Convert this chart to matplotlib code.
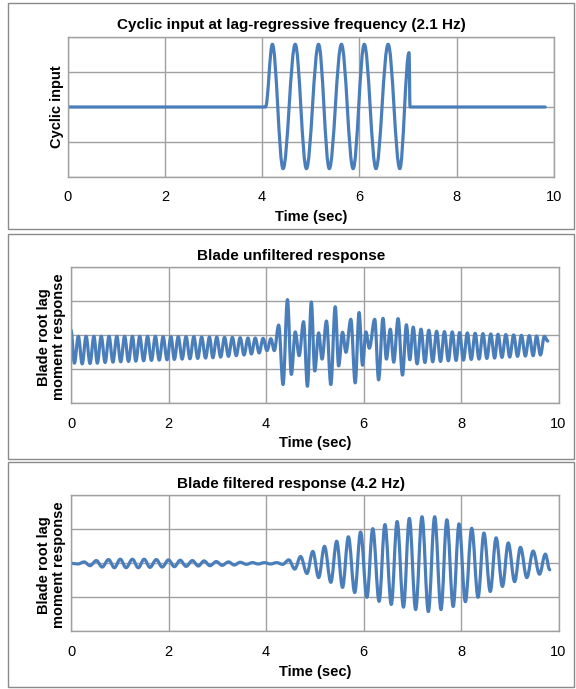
import matplotlib
matplotlib.use("Agg")
import matplotlib.pyplot as plt
from matplotlib.path import Path
from matplotlib.patches import PathPatch, Rectangle

# ---- data: extrema (time in sec, value in grid units) ----
# cyclic input, 2.1 Hz burst between ~4.1 s and ~7.0 s
input_t = [0.00, 4.07, 4.21, 4.43, 4.68, 4.91, 5.16, 5.38, 5.63, 5.87,
           6.10, 6.34, 6.59, 6.83, 7.02, 7.04, 9.82]
input_y = [0.00, 0.00, 1.80, -1.77, 1.80, -1.77, 1.80, -1.77, 1.80, -1.77,
           1.80, -1.77, 1.80, -1.77, 1.56, 0.00, 0.00]

# blade unfiltered response
unf_t = [0.00,
         0.07, 0.15, 0.23, 0.31, 0.39, 0.47, 0.54, 0.62, 0.70, 0.78,
         0.86, 0.94, 1.02, 1.10, 1.18, 1.26, 1.33, 1.41, 1.49, 1.57,
         1.65, 1.73, 1.81, 1.89, 1.97, 2.05, 2.12, 2.20, 2.28, 2.36,
         2.44, 2.52, 2.60, 2.68, 2.76, 2.84, 2.91, 2.99, 3.07, 3.15,
         3.23, 3.31, 3.39, 3.47, 3.55, 3.63, 3.70, 3.78, 3.86, 3.94,
         4.02, 4.10,
         4.17, 4.26, 4.35, 4.44, 4.52, 4.60, 4.68, 4.77, 4.85, 4.93,
         5.00, 5.08, 5.15, 5.24, 5.33, 5.42, 5.49, 5.57, 5.64, 5.74,
         5.83, 5.91, 5.98, 6.05, 6.12, 6.23, 6.31, 6.40, 6.47, 6.55,
         6.62, 6.71, 6.80, 6.88, 6.95, 7.02, 7.10, 7.18, 7.26, 7.34,
         7.42, 7.50, 7.58, 7.66, 7.74, 7.82, 7.90, 7.97, 8.05, 8.13,
         8.21, 8.29, 8.37, 8.45, 8.53, 8.61, 8.69, 8.76, 8.84, 8.92,
         9.00, 9.08, 9.16, 9.24, 9.32, 9.40, 9.48, 9.55, 9.63, 9.71,
         9.78]
unf_y = [0.15,
         -0.82, -0.03, -0.84, -0.03, -0.83, -0.03, -0.82, -0.03, -0.80, -0.03,
         -0.79, -0.03, -0.78, -0.03, -0.77, -0.03, -0.76, -0.03, -0.75, -0.03,
         -0.74, -0.03, -0.73, -0.04, -0.72, -0.04, -0.71, -0.04, -0.70, -0.04,
         -0.69, -0.04, -0.68, -0.05, -0.67, -0.05, -0.66, -0.05, -0.64, -0.06,
         -0.62, -0.06, -0.60, -0.07, -0.58, -0.08, -0.55, -0.08, -0.52, -0.09,
         -0.45, -0.10,
         -0.45, 0.30, -1.45, 1.05, -1.15, 0.10, -0.60, 0.40, -1.50, 0.98,
         -1.05, 0.07, -0.70, 0.42, -1.45, 0.84, -0.90, 0.09, -0.50, 0.47,
         -1.40, 0.67, -0.88, 0.10, -0.38, 0.47, -1.31, 0.50, -0.70, 0.18,
         -0.79, 0.49, -1.17, 0.31, -0.72, 0.24, -0.84, 0.18, -0.80, 0.15,
         -0.78, 0.12, -0.77, 0.11, -0.75, 0.10, -0.74, 0.08, -0.73, 0.07,
         -0.71, 0.06, -0.70, 0.05, -0.68, 0.04, -0.67, 0.03, -0.65, 0.02,
         -0.64, 0.01, -0.62, 0.00, -0.61, -0.01, -0.60, -0.02, -0.58, -0.03,
         -0.17]

# blade filtered response (4.2 Hz)
filt_t = [0.00,
          0.14, 0.27, 0.39, 0.52, 0.64, 0.77, 0.89, 1.01, 1.13, 1.26,
          1.38, 1.50, 1.62, 1.75, 1.87, 2.00, 2.12, 2.24, 2.36, 2.49,
          2.61, 2.73, 2.85, 2.98, 3.10, 3.23, 3.35, 3.47, 3.60, 3.72,
          3.84, 3.97, 4.09, 4.22, 4.34, 4.47, 4.59, 4.71, 4.84, 4.96,
          5.08, 5.20, 5.33, 5.45, 5.57, 5.69, 5.82, 5.94, 6.07, 6.19,
          6.32, 6.44, 6.57, 6.69, 6.82, 6.94, 7.07, 7.20, 7.33, 7.46,
          7.59, 7.71, 7.84, 7.96, 8.09, 8.22, 8.35, 8.47, 8.60, 8.72,
          8.85, 8.97, 9.10, 9.22, 9.35, 9.48, 9.61, 9.73, 9.82]
filt_y = [0.00,
          -0.02, 0.04, -0.07, 0.08, -0.11, 0.11, -0.13, 0.12, -0.13, 0.12,
          -0.13, 0.12, -0.12, 0.11, -0.11, 0.10, -0.10, 0.09, -0.09, 0.08,
          -0.08, 0.07, -0.07, 0.05, -0.06, 0.04, -0.05, 0.03, -0.03, 0.02,
          -0.02, 0.02, -0.02, 0.02, -0.03, 0.10, -0.17, 0.20, -0.30, 0.35,
          -0.42, 0.50, -0.56, 0.65, -0.71, 0.78, -0.86, 0.92, -1.00, 1.02,
          -1.12, 1.14, -1.21, 1.23, -1.29, 1.32, -1.36, 1.37, -1.42, 1.37,
          -1.36, 1.28, -1.27, 1.16, -1.13, 1.03, -1.00, 0.89, -0.83, 0.75,
          -0.68, 0.60, -0.54, 0.47, -0.42, 0.36, -0.32, 0.27, -0.19]

assert len(input_t) == len(input_y)
assert len(unf_t) == len(unf_y)
assert len(filt_t) == len(filt_y)

time_ticks = [0, 2, 4, 6, 8, 10]
titles = ["Cyclic input at lag-regressive frequency (2.1 Hz)",
          "Blade unfiltered response",
          "Blade filtered response (4.2 Hz)"]
ylabels = ["Cyclic input",
           "Blade root lag\nmoment response",
           "Blade root lag\nmoment response"]

LINE = "#4a7ebb"
GRID = "#a0a0a0"
FRAME = "#8a8a8a"
plt.rcParams["font.family"] = ["Liberation Sans", "DejaVu Sans"]

W, H = 576, 689


def fx(x):
    return x / W


def fy(y):
    return 1 - y / H


def wave_path(t, y, k=0.3634):
    # smooth curve through the extrema: horizontal tangent at every point
    verts = [(t[0], y[0])]
    codes = [Path.MOVETO]
    for i in range(1, len(t)):
        dt = t[i] - t[i - 1]
        verts += [(t[i - 1] + k * dt, y[i - 1]), (t[i] - k * dt, y[i]), (t[i], y[i])]
        codes += [Path.CURVE4] * 3
    return Path(verts, codes)


fig = plt.figure(figsize=(W / 100, H / 100), dpi=100)

# layout in pixels: frame, plot box (l, t, r, b), title baseline, ylabel centre, xlabel baseline
layout = [
    dict(frame=(7.5, 2.5, 573.5, 228.5), box=(67.6, 37.3, 554, 176.7), title_y=29.5,
         ylab=(57, 107), xlab_y=220.5),
    dict(frame=(7.5, 233.5, 573.5, 458.5), box=(71, 267.3, 558.5, 403.3), title_y=259.5,
         ylab=(51.5, 337), xlab_y=447),
    dict(frame=(7.5, 461.5, 573.5, 686.5), box=(71, 495.3, 558.5, 631.3), title_y=488,
         ylab=(51.5, 565), xlab_y=676),
]
series = [(input_t, input_y), (unf_t, unf_y), (filt_t, filt_y)]

for i, lay in enumerate(layout):
    x0, y0, x1, y1 = lay["frame"]
    fig.patches.append(Rectangle((fx(x0), fy(y1)), (x1 - x0) / W, (y1 - y0) / H,
                                 transform=fig.transFigure, fill=False,
                                 edgecolor=FRAME, lw=1.0))
    l, t, r, b = lay["box"]
    ax = fig.add_axes([fx(l), fy(b), (r - l) / W, (b - t) / H])
    ax.set_xlim(0, 10)
    ax.set_ylim(-2, 2)
    ax.set_xticks(time_ticks)
    ax.set_yticks([-2, -1, 0, 1, 2])
    ax.set_yticklabels([])
    ax.grid(True, color=GRID, lw=1.0)
    ax.set_axisbelow(True)
    ax.tick_params(length=0, pad=9.6, labelsize=10.5, colors="black")
    for s in ax.spines.values():
        s.set_color(GRID)
        s.set_linewidth(1.0)

    st, sy = series[i]
    ax.add_patch(PathPatch(wave_path(st, sy), fill=False, edgecolor=LINE,
                           lw=2.3, joinstyle="round", capstyle="round"))

    fig.text(0.505, fy(lay["title_y"]), titles[i], ha="center", va="baseline",
             fontsize=11, fontweight="bold")
    fig.text(fx(lay["ylab"][0]), fy(lay["ylab"][1]), ylabels[i], rotation=90,
             ha="center", va="center", fontsize=10.5, fontweight="bold",
             linespacing=1.1, multialignment="center")
    fig.text(fx((l + r) / 2), fy(lay["xlab_y"]), "Time (sec)", ha="center",
             va="baseline", fontsize=10.5, fontweight="bold")

fig.savefig("out.png", dpi=100)
